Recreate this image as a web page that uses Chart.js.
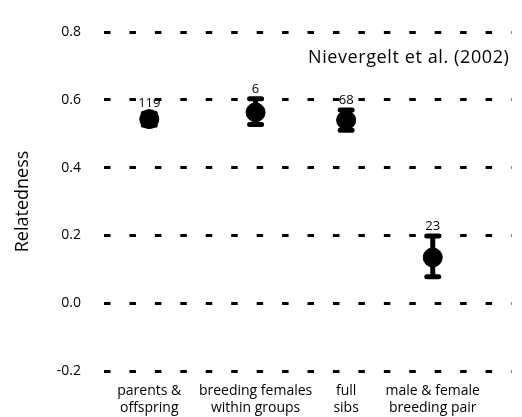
<!DOCTYPE html>
<html>
<head>
<meta charset="utf-8">
<script src="https://cdn.jsdelivr.net/npm/chart.js@4.4.1/dist/chart.umd.min.js"></script>
<style>
  html, body { margin: 0; padding: 0; background: #fff; }
  #wrap { width: 522px; height: 417px; position: relative; }
</style>
</head>
<body>
<div id="wrap"><canvas id="relChart"></canvas></div>
<script>
// categories and their positions along the axis
const groups = [["parents &", "offspring"], ["breeding females", "within groups"], ["full", "sibs"], ["male & female", "breeding pair"]];
const groupPos = [1.0, 2.08, 3.0, 3.88];

// mean relatedness with error range, and sample sizes
const meanR = [0.543, 0.563, 0.54, 0.135];
const upperR = [0.56, 0.603, 0.57, 0.198];
const lowerR = [0.525, 0.527, 0.51, 0.078];
const sampleN = ["119", "6", "68", "23"];

const yTicks = [-0.2, 0.0, 0.2, 0.4, 0.6, 0.8];
const sourceNote = "Nievergelt et al. (2002)";

const fontFam = "'Open Sans', sans-serif";

// draws error bars, sample sizes and the source note
const errorBars = {
    id: 'errorBars',
    beforeDatasetsDraw(chart) {
        const { ctx, scales: { x, y } } = chart;
        ctx.save();
        ctx.strokeStyle = '#000';
        ctx.lineCap = 'round';
        meanR.forEach((m, i) => {
            const px = x.getPixelForValue(groupPos[i]);
            const top = y.getPixelForValue(upperR[i]);
            const bot = y.getPixelForValue(lowerR[i]);
            ctx.lineWidth = 5;
            ctx.beginPath();
            ctx.moveTo(px, top); ctx.lineTo(px, bot);
            ctx.moveTo(px - 6, top); ctx.lineTo(px + 6, top);
            ctx.moveTo(px - 6, bot); ctx.lineTo(px + 6, bot);
            ctx.stroke();
        });
        ctx.restore();
    },
    afterDatasetsDraw(chart) {
        const { ctx, chartArea, scales: { x, y } } = chart;
        ctx.save();
        ctx.fillStyle = '#000';
        ctx.textAlign = 'center';
        ctx.textBaseline = 'alphabetic';
        ctx.font = `13px ${fontFam}`;
        sampleN.forEach((n, i) => {
            const px = x.getPixelForValue(groupPos[i]);
            const top = y.getPixelForValue(upperR[i]);
            ctx.fillText(n, px, top - 6);
        });
        ctx.font = `18px ${fontFam}`;
        ctx.letterSpacing = '0.6px';
        ctx.textAlign = 'right';
        ctx.textBaseline = 'middle';
        ctx.fillText(sourceNote, chartArea.right - 2, 58);
        ctx.restore();
    }
};

const ctx = document.getElementById('relChart').getContext('2d');
new Chart(ctx, {
    type: 'scatter',
    data: {
        datasets: [{
            data: meanR.map((m, i) => ({ x: groupPos[i], y: m })),
            backgroundColor: '#000',
            borderColor: '#000',
            pointRadius: 9.5,
            pointHoverRadius: 9.5
        }]
    },
    options: {
        responsive: true,
        maintainAspectRatio: false,
        animation: false,
        layout: { padding: { top: 32, right: 4, left: 0, bottom: 0 } },
        plugins: { legend: { display: false }, tooltip: { enabled: false } },
        scales: {
            x: {
                type: 'linear',
                min: 0.54,
                max: 4.68,
                afterBuildTicks: s => { s.ticks = groupPos.map(v => ({ value: v })); },
                afterFit: s => { s.height = 46; },
                grid: { display: false, drawTicks: false },
                border: { display: false },
                ticks: {
                    autoSkip: false,
                    maxRotation: 0,
                    padding: 11,
                    color: '#000',
                    font: { family: fontFam, size: 14, lineHeight: 1.22 },
                    callback: (v, i) => groups[i]
                }
            },
            y: {
                min: -0.2,
                max: 0.8,
                afterBuildTicks: s => { s.ticks = yTicks.map(v => ({ value: v })); },
                afterFit: s => { s.width = 104; },
                grid: { color: '#000', lineWidth: 3, drawTicks: false },
                border: { display: false, dash: [6.5, 18.94] },
                ticks: {
                    padding: 23,
                    color: '#000',
                    font: { family: fontFam, size: 14 },
                    callback: v => v.toFixed(1)
                },
                title: {
                    display: true,
                    text: 'Relatedness',
                    color: '#000',
                    font: { family: fontFam, size: 18 },
                    padding: { top: 12, bottom: 0 }
                }
            }
        }
    },
    plugins: [errorBars]
});
</script>
</body>
</html>
